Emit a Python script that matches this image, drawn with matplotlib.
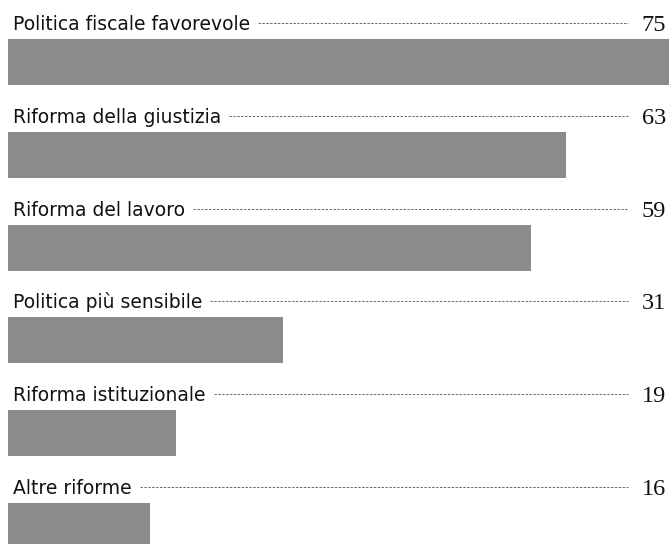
import matplotlib.pyplot as plt

labels = ['Politica fiscale favorevole', 'Riforma della giustizia', 'Riforma del lavoro',
          'Politica più sensibile', 'Riforma istituzionale', 'Altre riforme']
values = [75, 63, 59, 31, 19, 16]

W, H = 669, 544
px_per_unit = 8.86
x0_px = 8

fig = plt.figure(figsize=(W / 100, H / 100), dpi=100)
ax = fig.add_axes([0, 0, 1, 1])
ax.set_xlim(-x0_px / px_per_unit, (W - x0_px) / px_per_unit)
ax.set_ylim(H, 0)
ax.axis('off')

step = 92.8
bar_h = 46
centers = [62 + i * step for i in range(len(values))]

ax.barh(centers, values, height=bar_h, left=0, color='#8b8b8b', edgecolor='none')

fig.canvas.draw()
renderer = fig.canvas.get_renderer()
for c, lab, v in zip(centers, labels, values):
    top = c - bar_h / 2
    t = ax.text(5 / px_per_unit, top - 9, lab, fontsize=13.5,
                family='DejaVu Sans', color='#111111', ha='left', va='baseline')
    ax.text((666 - x0_px) / px_per_unit, top - 8, str(v), fontsize=17.5,
            family='Liberation Serif', color='#111111', ha='right', va='baseline')
    bb = t.get_window_extent(renderer)
    x_start = ax.transData.inverted().transform((bb.x1 + 8, 0))[0]
    ax.plot([x_start, (628 - x0_px) / px_per_unit], [top - 16, top - 16],
            color='#666666', lw=0.7, ls=(0, (2.5, 1.5)))

fig.savefig('out.png', dpi=100)
